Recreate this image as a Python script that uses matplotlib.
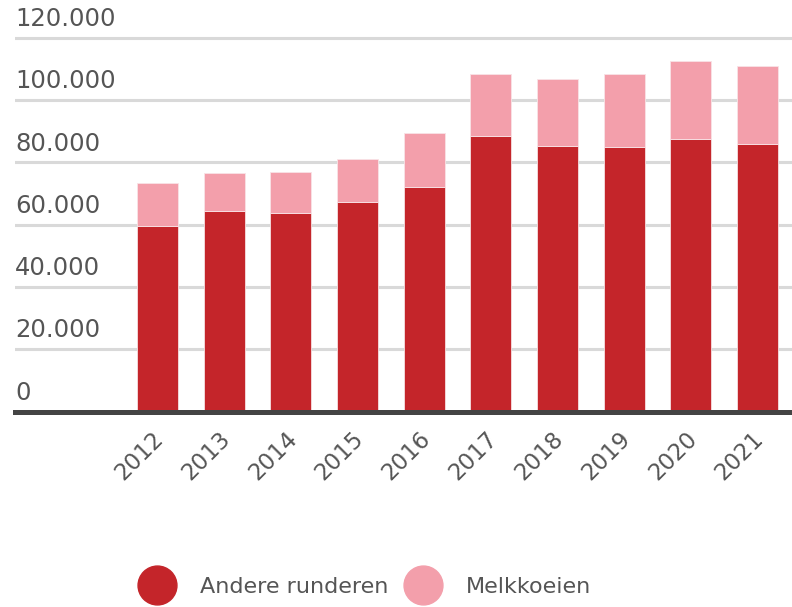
import matplotlib
matplotlib.use("Agg")
import matplotlib.pyplot as plt
import matplotlib.transforms as mtransforms
from matplotlib.lines import Line2D
import numpy as np

plt.rcParams["font.family"] = ["DejaVu Sans"]

YEARS = ["2012", "2013", "2014", "2015", "2016", "2017", "2018", "2019", "2020", "2021"]
ANDERE = [59600, 64400, 63800, 67300, 72100, 88500, 85300, 85000, 87600, 85900]
MELK = [13800, 12200, 13100, 13800, 17400, 19900, 21500, 23400, 25000, 25100]
YTICKS = [0, 20000, 40000, 60000, 80000, 100000, 120000]
YLABELS = ["0", "20.000", "40.000", "60.000", "80.000", "100.000", "120.000"]

DARK = "#c4252a"
PINK = "#f39fab"
TXT = "#555555"

fig = plt.figure(figsize=(7.92, 6.07), dpi=100)
ax = fig.add_axes([15 / 792, (607 - 411.5) / 607, 777 / 792, (411.5 - 22.4) / 607])

x = np.arange(len(YEARS))
ax.bar(x, ANDERE, width=0.615, color=DARK, edgecolor="#f6dfe1", linewidth=0.6, zorder=3)
ax.bar(x, MELK, width=0.615, bottom=ANDERE, color=PINK, edgecolor="#f9e3e6", linewidth=0.6, zorder=3)

ax.set_xlim(-2.1375, 9.517)
ax.set_ylim(0, 125000)

for s in ["top", "right", "left"]:
    ax.spines[s].set_visible(False)
ax.spines["bottom"].set_color("#444444")
ax.spines["bottom"].set_linewidth(3.6)
ax.spines["bottom"].set_zorder(4)

# y labels sit inside the plot, above their gridline
ax.set_yticks(YTICKS)
ax.set_yticklabels(YLABELS)
ax.yaxis.grid(True, color="#d9d9d9", linewidth=2.2, zorder=0)
ax.tick_params(axis="y", length=0, pad=0, labelsize=17.5, labelcolor=TXT)
up = mtransforms.ScaledTranslation(0, 5 / 72, fig.dpi_scale_trans)
for lab in ax.get_yticklabels():
    lab.set_horizontalalignment("left")
    lab.set_verticalalignment("bottom")
    lab.set_transform(lab.get_transform() + up)

ax.set_xticks(x)
ax.set_xticklabels(YEARS, rotation=45, ha="right", va="center", rotation_mode="anchor")
ax.tick_params(axis="x", length=0, pad=17, labelsize=16.5, labelcolor=TXT)
right = mtransforms.ScaledTranslation(2 / 72, 0, fig.dpi_scale_trans)
for lab in ax.get_xticklabels():
    lab.set_transform(lab.get_transform() + right)

handles = [
    Line2D([], [], marker="o", linestyle="none", markersize=28, color=DARK),
    Line2D([], [], marker="o", linestyle="none", markersize=28, color=PINK),
]
fig.legend(handles, ["Andere runderen", "Melkkoeien"], loc="center",
           bbox_to_anchor=(363 / 792, 20 / 607), ncol=2, frameon=False,
           fontsize=16, labelcolor=TXT, handletextpad=0.9, columnspacing=0.6,
           borderaxespad=0)

fig.savefig("out.png", dpi=100)
